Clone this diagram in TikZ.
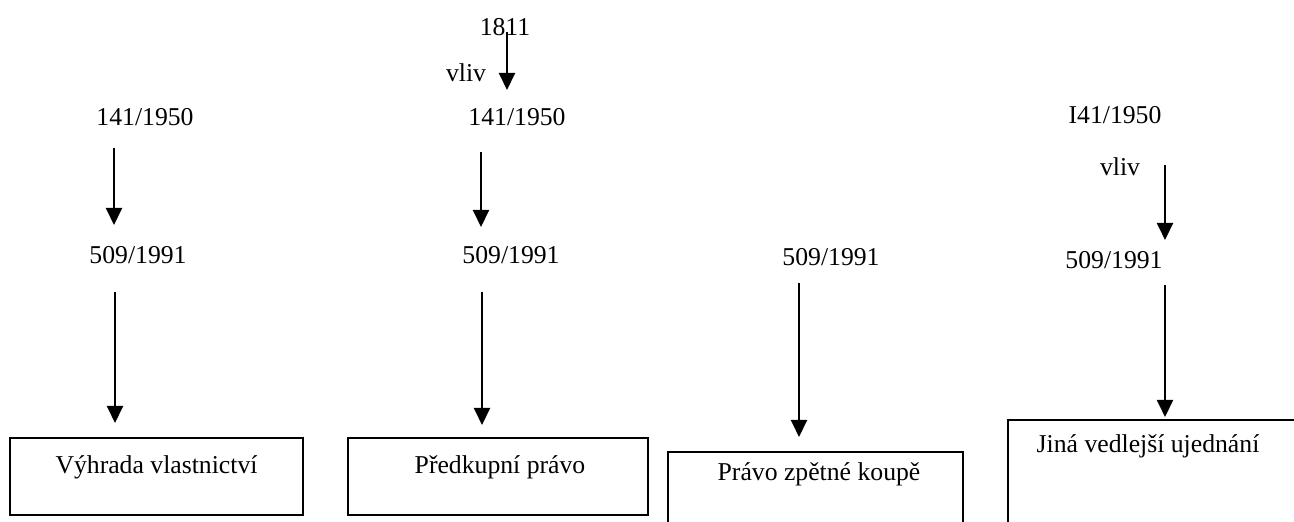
\documentclass[tikz,border=0pt]{standalone}
\usepackage{fontspec}
\setmainfont{Liberation Serif}
\usetikzlibrary{arrows.meta}
\begin{document}
\begin{tikzpicture}[x=0.5pt,y=-0.5pt,
  lbl/.style={inner sep=0pt, outer sep=0pt, text height=9pt, text depth=0pt, font=\fontsize{12.85}{15}\selectfont},
  arr/.style={line width=1pt, -{Triangle[length=8.5pt,width=8pt]}},
  box/.style={draw, line width=1pt, anchor=north west, inner sep=0pt, outer sep=0pt},
  boxtext/.style={lbl, anchor=base}
]
\useasboundingbox (0,0) rectangle (1294,522);
\clip (0,0) rectangle (1294,522);

% law labels
\node[lbl] (s1811) at (505,27) {1811};
\node[lbl] (v2) at (466,73) {vliv};
\node[lbl] (a1) at (145,117) {141/1950};
\node[lbl] (a2) at (517,117) {141/1950};
\node[lbl] (a4) at (1115,115) {I41/1950};
\node[lbl] (v4) at (1120,167) {vliv};
\node[lbl] (b1) at (138,255) {509/1991};
\node[lbl] (b2) at (511,255) {509/1991};
\node[lbl] (b3) at (831,257) {509/1991};
\node[lbl] (b4) at (1114,260) {509/1991};

% boxes
\node[box, minimum width=146.5pt, minimum height=38.5pt,
  label={[boxtext, yshift=-18pt]north:Výhrada vlastnictví}] (c1) at (10,438) {};
\node[box, minimum width=150pt, minimum height=38.5pt,
  label={[boxtext, xshift=1pt, yshift=-18pt]north:Předkupní právo}] (c2) at (348,438) {};
\node[box, minimum width=147.5pt, minimum height=44pt,
  label={[boxtext, xshift=1.75pt, yshift=-14.5pt]north:Právo zpětné koupě}] (c3) at (668,452) {};
\node[box, minimum width=146pt, minimum height=60pt,
  label={[boxtext, xshift=-3pt, yshift=-16.5pt]north:Jiná vedlejší ujednání}] (c4) at (1008,420) {};

% connectors
\draw[arr, shorten <=-2pt, shorten >=9pt] ([xshift=1pt]s1811.south) -- ([xshift=-5pt]a2.north);

\draw[arr, shorten <=11pt, shorten >=10.5pt] ([xshift=-15.5pt]a1.south) -- ([xshift=-12pt]b1.north);
\draw[arr, shorten <=14pt, shorten >=7.5pt] ([xshift=-11.5pt]b1.south) -- ([xshift=-20.75pt]c1.north);

\draw[arr, shorten <=13pt, shorten >=9.5pt] ([xshift=-18pt]a2.south) -- ([xshift=-15pt]b2.north);
\draw[arr, shorten <=14pt, shorten >=6.5pt] ([xshift=-14.5pt]b2.south) -- ([xshift=-8pt]c2.north);

\draw[arr, shorten <=8.5pt, shorten >=7.5pt] ([xshift=-16pt]b3.south) -- ([xshift=-8.25pt]c3.north);

\draw[arr, shorten <=20.5pt, shorten >=5.5pt] ([xshift=25pt]a4.south) -- ([xshift=25.5pt]b4.north);
\draw[arr, shorten <=8pt, shorten >=1.5pt] ([xshift=25.5pt]b4.south) -- ([xshift=5.5pt]c4.north);
\end{tikzpicture}
\end{document}
